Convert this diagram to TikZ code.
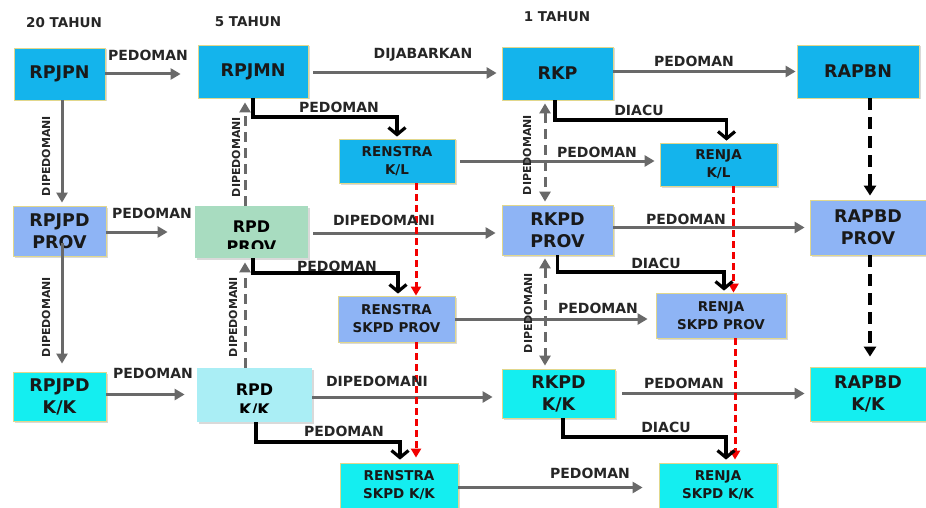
\documentclass[tikz,border=0pt]{standalone}
\usepackage{fontspec}
\setmainfont{DejaVu Sans}
\usetikzlibrary{arrows.meta,shadows}

\definecolor{topblue}{RGB}{20,180,236}
\definecolor{provblue}{RGB}{142,180,245}
\definecolor{kkcyan}{RGB}{20,238,240}
\definecolor{rpdgreen}{RGB}{168,220,192}
\definecolor{rpdcyan}{RGB}{170,238,245}
\definecolor{boxedge}{RGB}{225,215,140}
\definecolor{linegray}{RGB}{105,105,105}

\begin{document}
\begin{tikzpicture}[
        x=1pt, y=-1pt,
        box/.style={draw=boxedge, line width=0.8pt, align=center, inner sep=0pt, text=black!90,
            drop shadow={opacity=0.3, shadow xshift=1.5pt, shadow yshift=-1.5pt}},
        wh/.style 2 args={minimum width=#1, minimum height=#2},
        bigt/.style={font=\fontsize{17.5}{22}\selectfont\bfseries},
        smallt/.style={font=\fontsize{13.5}{18}\selectfont\bfseries},
        topn/.style={box, bigt, fill=topblue},
        provn/.style={box, bigt, fill=provblue},
        kkn/.style={box, bigt, fill=kkcyan},
        topsn/.style={box, smallt, fill=topblue},
        provsn/.style={box, smallt, fill=provblue},
        kksn/.style={box, smallt, fill=kkcyan},
        rpdn/.style={box, draw=none, fill=#1},
        rpdt/.style={align=center, text=black, inner sep=0pt, font=\fontsize{16}{20}\selectfont\bfseries},
        lbl/.style={text=black!85, font=\fontsize{14}{16}\selectfont\bfseries, inner sep=0pt},
        vlbl/.style={lbl, rotate=90, font=\fontsize{11}{13}\selectfont\bfseries},
        head/.style={lbl, font=\fontsize{13.5}{16}\selectfont\bfseries},
        grayarr/.style={draw=linegray, line width=3pt, -{Triangle[length=10pt,width=11pt]}},
        graydash/.style={grayarr, dash pattern=on 10pt off 6pt},
        graydbl/.style={graydash, {Triangle[length=10pt,width=11pt]}-{Triangle[length=10pt,width=11pt]}},
        blackarr/.style={draw=black, line width=3.2pt, -{Straight Barb[length=7pt,width=17pt]}},
        blackdash/.style={draw=black, line width=3.2pt, dash pattern=on 12pt off 7pt, -{Triangle[length=10pt,width=12pt]}},
        reddash/.style={draw=red!95!black, line width=3pt, dash pattern=on 7pt off 4pt, -{Triangle[length=9pt,width=10pt]}},
    ]
    \useasboundingbox (0,0) rectangle (926,508);

    % headers
    \node[head] (h20) at (64,23) {20 TAHUN};
    \node[head] (h5) at (248,22) {5 TAHUN};
    \node[head] (h1) at (557,17) {1 TAHUN};

    % national row
    \node[topn, wh={91pt}{52pt}] (rpjpn) at (59.5,74) {RPJPN};
    \node[topn, wh={110pt}{53pt}] (rpjmn) at (253,71.5) {RPJMN};
    \node[topn, wh={111pt}{53pt}] (rkp) at (557.5,73.5) {RKP};
    \node[topn, wh={122pt}{53pt}] (rapbn) at (858,71.5) {RAPBN};
    \node[topsn, wh={116pt}{44pt}] (renstrakl) at (397,161) {RENSTRA\\K/L};
    \node[topsn, wh={117pt}{43pt}] (renjakl) at (718.5,164.5) {RENJA\\K/L};

    % province row
    \node[provn, wh={93pt}{50pt}] (rpjpdprov) at (59.5,231) {RPJPD\\PROV};
    \node[rpdn=rpdgreen, wh={113pt}{52pt},
        path picture={
            \clip (path picture bounding box.north west) rectangle ([yshift=10pt]path picture bounding box.south east);
            \node[rpdt] (rpdprovtxt) at ([yshift=-5pt]path picture bounding box.center) {RPD\\PROV};
        }] (rpdprov) at (251.5,232) {};
    \node[provn, wh={111pt}{50pt}] (rkpdprov) at (557.5,230) {RKPD\\PROV};
    \node[provn, wh={116pt}{55pt}] (rapbdprov) at (868,227.5) {RAPBD\\PROV};
    \node[provsn, wh={117pt}{46pt}] (renstraprov) at (396.5,319) {RENSTRA\\SKPD PROV};
    \node[provsn, wh={130pt}{45pt}] (renjaprov) at (721,315.5) {RENJA\\SKPD PROV};

    % kabupaten/kota row
    \node[kkn, wh={93pt}{49pt}] (rpjpdkk) at (59.5,396.5) {RPJPD\\K/K};
    \node[rpdn=rpdcyan, wh={115pt}{54pt},
        path picture={
            \clip (path picture bounding box.north west) rectangle ([yshift=10pt]path picture bounding box.south east);
            \node[rpdt] (rpdkktxt) at ([yshift=-5pt]path picture bounding box.center) {RPD\\K/K};
        }] (rpdkk) at (254.5,395) {};
    \node[kkn, wh={113pt}{49pt}] (rkpdkk) at (558.5,393.5) {RKPD\\K/K};
    \node[kkn, wh={116pt}{54pt}] (rapbdkk) at (868,394) {RAPBD\\K/K};
    \node[kksn, wh={118pt}{45pt}] (renstrakk) at (399,485.5) {RENSTRA\\SKPD K/K};
    \node[kksn, wh={118pt}{45pt}] (renjakk) at (718,485.5) {RENJA\\SKPD K/K};

    % gray arrows
    \draw[grayarr, shorten >=17pt] (rpjpn.east) -- (rpjpn.east -| rpjmn.west);
    \draw[grayarr, shorten <=5pt, shorten >=5pt] ([yshift=-1.5pt]rpjmn.east) -- ([yshift=-1.5pt]rpjmn.east -| rkp.west);
    \draw[grayarr, shorten >=1pt] (rapbn.west -| rkp.east) -- (rapbn.west);
    \draw[grayarr, shorten >=5pt, shorten <=5pt] (renstrakl.east) -- (renstrakl.east -| renjakl.west);
    \draw[grayarr, shorten >=27pt] (rpjpdprov.east |- rpdprov.west) -- (rpdprov.west);
    \draw[grayarr, shorten <=5pt, shorten >=6pt] ([yshift=-1pt]rpdprov.east) -- ([yshift=-1pt]rpdprov.east -| rkpdprov.west);
    \draw[grayarr, shorten >=5pt] (rkpdprov.east |- rapbdprov.west) -- (rapbdprov.west);
    \draw[grayarr, shorten >=8pt] (renstraprov.east) -- (renstraprov.east -| renjaprov.west);
    \draw[grayarr, shorten >=12pt] ([yshift=2pt]rpjpdkk.east) -- ([yshift=2pt]rpjpdkk.east -| rpdkk.west);
    \draw[grayarr, shorten >=9pt] ([yshift=-2pt]rpdkk.east) -- ([yshift=-2pt]rpdkk.east -| rkpdkk.west);
    \draw[grayarr, shorten <=7pt, shorten >=5pt] (rkpdkk.east) -- (rkpdkk.east -| rapbdkk.west);
    \draw[grayarr, shorten >=16pt] ([yshift=-2pt]renstrakk.east) -- ([yshift=-2pt]renstrakk.east -| renjakk.west);
    \draw[grayarr, shorten >=3pt] ([xshift=2.5pt]rpjpn.south) -- ([xshift=2.5pt]rpjpn.south |- rpjpdprov.north);
    \draw[grayarr, shorten >=8pt] ([xshift=2.5pt,yshift=-12pt]rpjpdprov.center) -- ([xshift=2.5pt]rpjpdprov.center |- rpjpdkk.north);

    % dashed gray arrows
    \draw[graydash, shorten >=4pt] ([xshift=-6.5pt]rpdprov.north) -- ([xshift=-6.5pt]rpdprov.north |- rpjmn.south);
    \draw[graydash, shorten >=4pt] ([xshift=-9.5pt]rpdkk.north) -- ([xshift=-9.5pt]rpdkk.north |- rpdprov.south);
    \draw[graydbl, shorten <=3pt, shorten >=3pt] ([xshift=-12.5pt]rkp.south) -- ([xshift=-12.5pt]rkp.south |- rkpdprov.north);
    \draw[graydbl, shorten <=3pt, shorten >=3pt] ([xshift=-12.5pt]rkpdprov.south) -- ([xshift=-12.5pt]rkpdprov.south |- rkpdkk.north);

    % black dashed arrows
    \draw[blackdash, shorten >=4pt] ([xshift=12pt]rapbn.south) -- ([xshift=12pt]rapbn.south |- rapbdprov.north);
    \draw[blackdash, shorten >=10pt] ([xshift=2pt]rapbdprov.south) -- ([xshift=2pt]rapbdprov.south |- rapbdkk.north);

    % red dashed arrows
    \draw[reddash] ([xshift=19pt]renstrakl.south) -- ([xshift=19pt]renstrakl.south |- renstraprov.north);
    \draw[reddash, shorten >=5pt] ([xshift=19.5pt]renstraprov.south) -- ([xshift=19.5pt]renstraprov.south |- renstrakk.north);
    \draw[reddash] ([xshift=15pt]renjakl.south) -- ([xshift=15pt]renjakl.south |- renjaprov.north);
    \draw[reddash, shorten >=3pt] ([xshift=14pt]renjaprov.south) -- ([xshift=14pt]renjaprov.south |- renjakk.north);

    % black elbow arrows
    \draw[blackarr, shorten >=2pt] (rpjmn.south) -- (rpjmn.south |- 0,117) -| (renstrakl.north);
    \draw[blackarr, shorten >=2pt] ([xshift=-2.5pt]rkp.south) -- ([xshift=-2.5pt]rkp.south |- 0,120) -| ([xshift=8pt]renjakl.north);
    \draw[blackarr, shorten >=2pt] ([xshift=1.5pt]rpdprov.south) -- ([xshift=1.5pt]rpdprov.south |- 0,273) -| ([xshift=1.5pt]renstraprov.north);
    \draw[blackarr, shorten >=2pt] (rkpdprov.south) -- (rkpdprov.south |- 0,272) -| ([xshift=3pt]renjaprov.north);
    \draw[blackarr, shorten >=3pt] ([xshift=1.5pt]rpdkk.south) -- ([xshift=1.5pt]rpdkk.south |- 0,442) -| ([xshift=1pt]renstrakk.north);
    \draw[blackarr, shorten >=3pt] ([xshift=4.5pt]rkpdkk.south) -- ([xshift=4.5pt]rkpdkk.south |- 0,437) -| ([xshift=8pt]renjakk.north);

    % labels
    \node[lbl] (l1) at (148,55) {PEDOMAN};
    \node[lbl] (l2) at (423,55) {DIJABARKAN};
    \node[lbl] (l3) at (694,61) {PEDOMAN};
    \node[lbl] (l4) at (339,107) {PEDOMAN};
    \node[lbl] (l5) at (639,110) {DIACU};
    \node[lbl] (l6) at (597,152) {PEDOMAN};
    \node[lbl] (l7) at (152,213) {PEDOMAN};
    \node[lbl] (l8) at (384,220) {DIPEDOMANI};
    \node[lbl] (l9) at (686,219) {PEDOMAN};
    \node[lbl] (l10) at (337,266) {PEDOMAN};
    \node[lbl] (l11) at (656,263) {DIACU};
    \node[lbl] (l12) at (598,308) {PEDOMAN};
    \node[lbl] (l13) at (153,373) {PEDOMAN};
    \node[lbl] (l14) at (377,381) {DIPEDOMANI};
    \node[lbl] (l15) at (684,383) {PEDOMAN};
    \node[lbl] (l16) at (344,431) {PEDOMAN};
    \node[lbl] (l17) at (666,427) {DIACU};
    \node[lbl] (l18) at (590,473) {PEDOMAN};
    \node[vlbl] (v1) at (46,156) {DIPEDOMANI};
    \node[vlbl] (v2) at (46,317) {DIPEDOMANI};
    \node[vlbl] (v3) at (236,157) {DIPEDOMANI};
    \node[vlbl] (v4) at (233,317) {DIPEDOMANI};
    \node[vlbl] (v5) at (527,155) {DIPEDOMANI};
    \node[vlbl] (v6) at (528,313) {DIPEDOMANI};
\end{tikzpicture}
\end{document}
